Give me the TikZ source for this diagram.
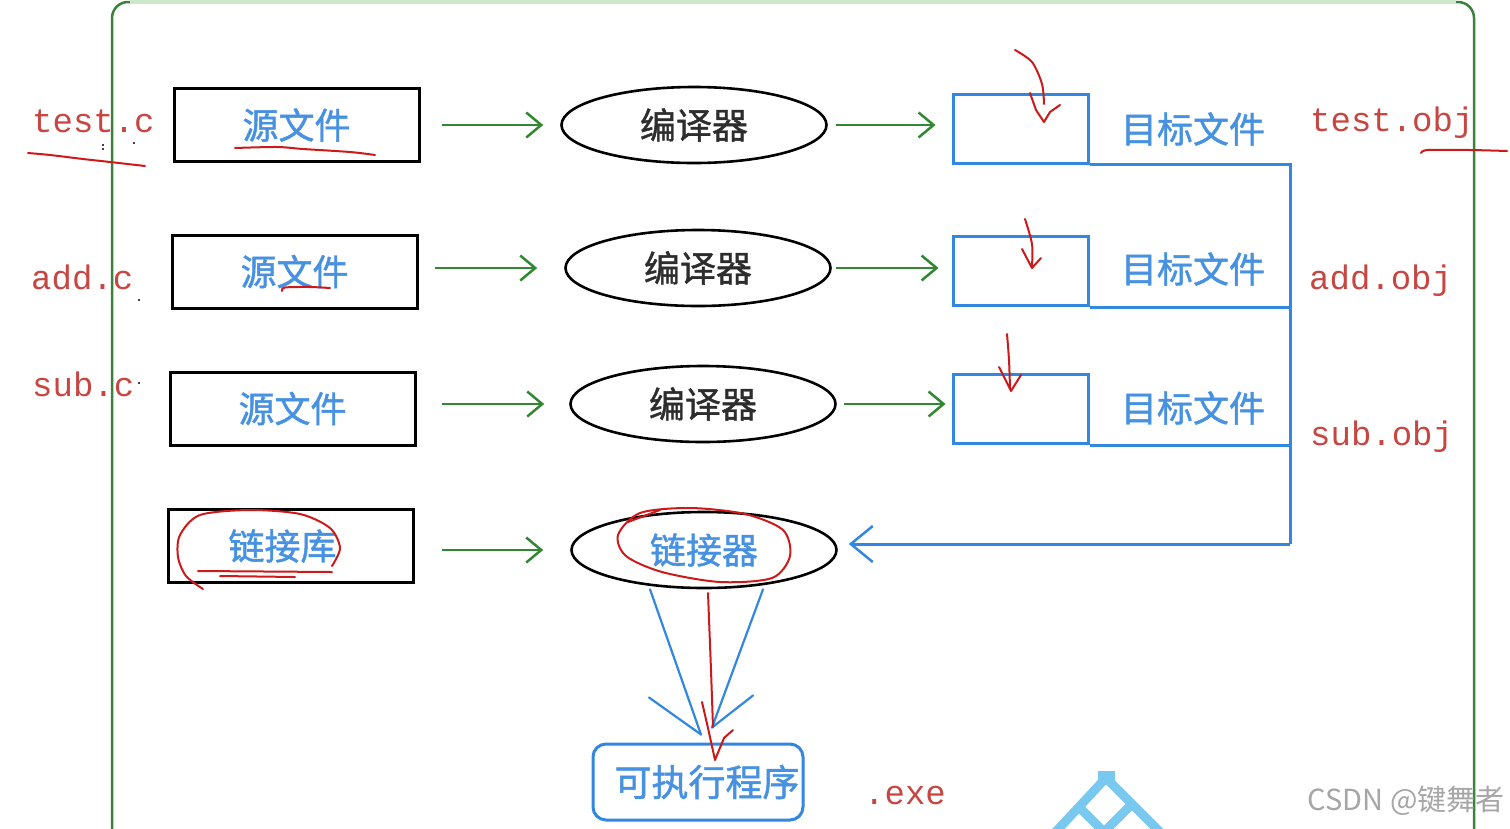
\documentclass[tikz,border=0pt]{standalone}
\usepackage{fontspec}
\newfontfamily\cjk[FakeBold=1.2]{Noto Sans CJK SC}
\newfontfamily\cjkw{Noto Sans CJK SC}
\newfontfamily\monof{Liberation Mono}
\usetikzlibrary{shapes.geometric,arrows.meta}
\definecolor{txtblue}{RGB}{70,145,225}
\definecolor{lineblue}{RGB}{50,135,225}
\definecolor{arrowgreen}{RGB}{50,135,50}
\definecolor{framegreen}{RGB}{60,130,60}
\definecolor{framelight}{RGB}{205,232,205}
\definecolor{redpen}{RGB}{205,25,25}
\definecolor{redtext}{RGB}{200,70,65}
\definecolor{logoblue}{RGB}{120,200,240}
\definecolor{darktext}{RGB}{45,45,45}
\begin{document}
\begin{tikzpicture}[x=1pt,y=-1pt,
  srcbox/.style={draw=black, line width=3pt, minimum width=245pt, minimum height=73pt, inner sep=0pt, text=txtblue, font=\cjk\fontsize{36}{40}\selectfont},
  comp/.style={ellipse, draw=black, line width=2.6pt, minimum width=265pt, minimum height=76pt, inner sep=0pt, text=darktext, font=\cjk\fontsize{36}{40}\selectfont},
  objbox/.style={draw=lineblue, line width=3pt, minimum width=135pt, minimum height=69pt, inner sep=0pt},
  bluelabel/.style={inner sep=0pt, text=txtblue, font=\cjk\fontsize{36}{40}\selectfont},
  redlabel/.style={inner sep=0pt, anchor=west, text=redtext, font=\monof\fontsize{34}{38}\selectfont},
  garrow/.style={draw=arrowgreen, line width=2.8pt, -{Straight Barb[length=15pt,width=25pt,line width=2.5pt]}},
  bline/.style={draw=lineblue, line width=3pt},
  thinb/.style={draw=lineblue, line width=2.2pt, line cap=round},
  pen/.style={draw=redpen, line width=2pt, line cap=round, line join=round},
  exebox/.style={draw=lineblue, line width=3pt, rounded corners=13pt, minimum width=210pt, minimum height=76pt, inner sep=0pt, text=txtblue, font=\cjk\fontsize{37}{40}\selectfont}
]
\useasboundingbox (0,0) rectangle (1510,828);
\fill[white] (0,0) rectangle (1510,828);

% frame
\draw[framegreen, line width=2.5pt, rounded corners=16pt] (112,840) -- (112,2) -- (1474,2) -- (1474,840);
\draw[framelight, line width=3.2pt] (130,2) -- (1456,2);

% source boxes
\node[srcbox] (s1) at (296.5,125) {源文件};
\node[srcbox] (s2) at (294.5,271.5) {源文件};
\node[srcbox] (s3) at (292.5,408.5) {源文件};
\node[srcbox] (s4) at (290.5,546) {\hspace*{-16pt}链接库};

% compilers / linker
\node[comp] (c1) at (694,125) {编译器};
\node[comp] (c2) at (698,268) {编译器};
\node[comp] (c3) at (703,404) {编译器};
\node[comp, text=txtblue] (lk) at (704,550) {链接器};

% object boxes
\node[objbox] (o1) at (1020.5,128.5) {};
\node[objbox] (o2) at (1020.5,271) {};
\node[objbox] (o3) at (1020.5,409) {};
\node[bluelabel] (t1) at (1193,129) {目标文件};
\node[bluelabel] (t2) at (1193,269) {目标文件};
\node[bluelabel] (t3) at (1193,408) {目标文件};

% executable
\node[exebox] (exe) at (698,782) {\hspace*{18pt}可执行程序};

% red labels
\node[redlabel] (l1) at (32,121) {test.c};
\node[redlabel] (l2) at (31,277) {add.c};
\node[redlabel] (l3) at (32,384) {sub.c};
\node[redlabel] (l4) at (1310,123) {test.obj};
\node[redlabel] (l5) at (1309,281) {add.obj};
\node[redlabel] (l6) at (1310,437) {sub.obj};
\node[redlabel] (l7) at (864,796) {.exe};

% watermark
\node[inner sep=0pt, anchor=east, text=black!35, font=\cjkw\fontsize{29}{32}\selectfont] (wm) at (1505,801) {CSDN @键舞者};

% green arrows
\draw[garrow, shorten <=21pt, shorten >=17pt] (s1.east) -- (s1.east -| c1.west);
\draw[garrow, shorten <=16pt, shorten >=27pt] (s2.east |- c2.west) -- (c2.west);
\draw[garrow, shorten <=25pt, shorten >=25pt] (s3.east |- c3.west) -- (c3.west);
\draw[garrow, shorten <=27pt, shorten >=27pt] (s4.east |- lk.west) -- (lk.west);
\draw[garrow, shorten <=8.5pt, shorten >=16pt] (c1.east) -- (c1.east -| o1.west);
\draw[garrow, shorten <=4.5pt, shorten >=13pt] (c2.east) -- (c2.east -| o2.west);
\draw[garrow, shorten <=7.5pt, shorten >=6pt] (c3.east) -- (c3.east -| o3.west);

% blue bus to linker
\coordinate (j1) at (1290,162);
\coordinate (jb) at (1290,544);
\draw[bline] (o1.south east) -- (o1.south east -| j1) -- (jb);
\draw[bline] (o2.south east) -- (o2.south east -| j1);
\draw[bline] (o3.south east) -- (o3.south east -| j1);
\draw[bline, shorten >=11pt, -{Straight Barb[length=22pt,width=36pt,line width=2.5pt]}] (jb) -- (jb -| lk.east);

% linker to executable
\coordinate (tipL) at ([xshift=3pt,yshift=8pt]exe.north);
\coordinate (tipR) at ([xshift=14pt,yshift=15pt]exe.north);
\draw[thinb] ([xshift=-54pt]lk.south) -- (tipL);
\draw[thinb] ([xshift=59pt]lk.south) -- (tipR);
\draw[thinb] (tipL) -- ++(-52,-37);
\draw[thinb] (tipR) -- ++(41,-32);

% red annotations
\draw[pen] plot[smooth] coordinates {(28,153) (50,155) (83,159) (110,162) (145,166)};
\draw[pen] plot[smooth] coordinates {(235,148) (277,147) (303,149) (350,152) (375,155)};
\draw[pen] plot[smooth] coordinates {(282,291) (285,287.5) (310,287) (330,288)};
\draw[pen] plot[smooth] coordinates {(203,589) (186,576) (178,557) (180,535) (200,515) (250,510) (300,514) (330,528) (340,548) (332,566)};
\draw[pen] (198,571) -- (332,572);
\draw[pen] (220,576) -- (295,577);
\draw[pen] plot[smooth cycle] coordinates {(640,513) (690,508) (745,514) (783,530) (790,556) (772,578) (720,582) (662,572) (626,556) (618,535)};
\draw[pen] (628,522) -- (660,510);
% arrows into object boxes
\draw[pen] plot[smooth] coordinates {(1015,50) (1032,62) (1042,84) (1044,104)};
\draw[pen] (1030,93) -- (1036,110) -- (1044,122) -- (1050,112) -- (1060,105);
\draw[pen] plot[smooth] coordinates {(1025,219) (1032,244) (1032,266)};
\draw[pen] (1022,249) -- (1032,268) -- (1041,258);
\draw[pen] plot[smooth] coordinates {(1007,334) (1009,360) (1010,388)};
\draw[pen] (999,367) -- (1011,391) -- (1021,375);
\draw[pen] plot[smooth] coordinates {(1421,153) (1428,150) (1470,150) (1507,151)};
% linker to exe red arrow
\draw[pen] (708,593) -- (711,670) -- (713,727);
\draw[pen] (702,702) -- (708,728) -- (715,760) -- (724,738) -- (733,730);
% stray dots
\fill[black] (103,145) circle (1.2pt) (103,149) circle (1.2pt) (134,143) circle (1.2pt) (139,300) circle (1.2pt) (139,383) circle (1.2pt);

% partial logo
\begin{scope}[logoblue, line width=9pt]
\clip (1000,760) rectangle (1200,828);
\draw (1104,780) -- (1050,838);
\draw (1108,780) -- (1168,840);
\draw (1080,808) -- (1108,836);
\draw (1130,806) -- (1100,836);
\fill (1098,771) rectangle (1115,784);
\end{scope}
\end{tikzpicture}
\end{document}
